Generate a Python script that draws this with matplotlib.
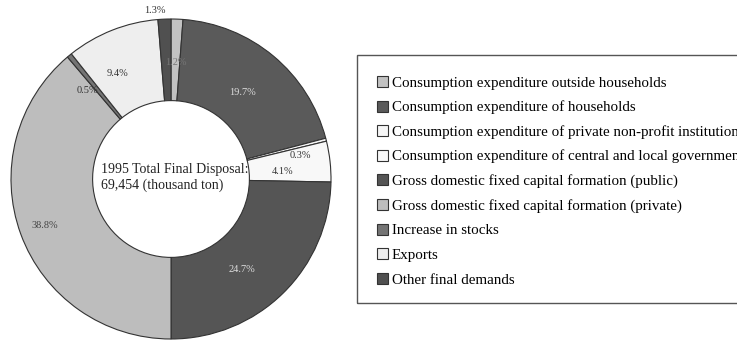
import numpy as np
import matplotlib as mpl
mpl.use('Agg')
import matplotlib.pyplot as plt
from matplotlib.patches import Rectangle

mpl.rcParams.update({
    'font.family': 'serif',
    'font.serif': ['Liberation Serif', 'DejaVu Serif'],
})

categories = [
    'Consumption expenditure outside households',
    'Consumption expenditure of households',
    'Consumption expenditure of private non-profit institutions',
    'Consumption expenditure of central and local government',
    'Gross domestic fixed capital formation (public)',
    'Gross domestic fixed capital formation (private)',
    'Increase in stocks',
    'Exports',
    'Other final demands',
]
shares = [1.2, 19.7, 0.3, 4.1, 24.7, 38.8, 0.5, 9.4, 1.3]

colors = ['#c2c2c2', '#5a5a5a', '#f6f6f6', '#f8f8f8', '#555555',
          '#bdbdbd', '#747474', '#eeeeee', '#505050']
label_colors = ['#777777', '#dddddd', '#333333', '#333333', '#dddddd',
                '#444444', '#333333', '#333333', '#333333']
# radial distance and angular nudge (deg) of each percentage label
label_r = [0.73, 0.70, 0.82, 0.70, 0.72, 0.84, 0.76, 0.74, 1.06]
label_dt = [0, 0, -4, -2.5, -6.5, 0, 4, 5, 3]

W, H = 737, 341
fig = plt.figure(figsize=(W / 100, H / 100), dpi=100)

# donut: centre (171, 179) px, radius 160 px
ax = fig.add_axes([11 / W, (H - 339) / H, 320 / W, 320 / H])
wedges, _ = ax.pie(shares, colors=colors, startangle=90, counterclock=False,
                   radius=1.0,
                   wedgeprops=dict(width=0.51, edgecolor='#333333', linewidth=0.8))
ax.set_xlim(-1, 1)
ax.set_ylim(-1, 1)
ax.set_aspect('equal')
ax.axis('off')

for w, v, r, dt, c in zip(wedges, shares, label_r, label_dt, label_colors):
    ang = np.deg2rad((w.theta1 + w.theta2) / 2 + dt)
    ax.text(r * np.cos(ang), r * np.sin(ang), f'{v:.1f}%', ha='center', va='center',
            fontsize=7.5, color=c, clip_on=False)

ax.text(-0.44, 0.01, '1995 Total Final Disposal:\n69,454 (thousand ton)',
        ha='left', va='center', fontsize=10, linespacing=1.3, color='#222222')

# legend box, running off the right edge
fig.patches.append(Rectangle((357 / W, 1 - 303 / H), 400 / W, 248 / H,
                             transform=fig.transFigure, fill=False,
                             edgecolor='#555555', linewidth=1.0))

leg = fig.legend(wedges, categories, loc='upper left',
                 bbox_to_anchor=(377 / W, 1 - 76 / H), borderaxespad=0,
                 fontsize=10.8, frameon=False,
                 handlelength=0.75, handleheight=0.75,
                 handletextpad=0.25, labelspacing=0.72, borderpad=0)
for h in leg.legend_handles:
    h.set_edgecolor('#333333')
    h.set_linewidth(0.8)

fig.savefig('out.png', dpi=100)
